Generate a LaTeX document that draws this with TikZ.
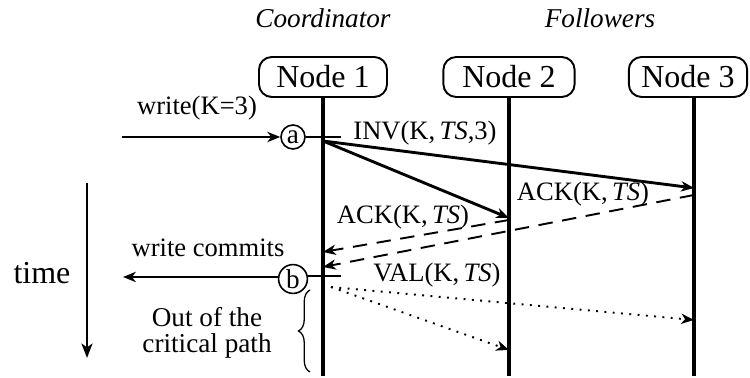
\documentclass[tikz,border=0pt]{standalone}
\usepackage{fontspec}
\setmainfont{Liberation Serif}
\usetikzlibrary{arrows.meta,decorations.pathreplacing}
\begin{document}
\begin{tikzpicture}[x=0.3125pt,y=-0.3125pt,
  box/.style={draw,line width=0.6pt,rounded corners=4pt,minimum height=12.5pt,inner sep=1pt,font=\fontsize{10}{12}\selectfont},
  lbl/.style={inner sep=0pt,font=\fontsize{8.3}{10}\selectfont},
  ttl/.style={inner sep=0pt,font=\fontsize{8.5}{10}\selectfont\itshape},
  life/.style={line width=1pt},
  msg/.style={line width=0.9pt,-{Stealth[length=4pt,width=3.2pt,inset=1.2pt]}},
  ack/.style={line width=0.6pt,dash pattern=on 4.5pt off 3pt,-{Stealth[length=4pt,width=3.2pt,inset=1.2pt]}},
  val/.style={line width=0.6pt,dash pattern=on 0.6pt off 2pt,-{Stealth[length=4pt,width=3.2pt,inset=1.2pt]}},
  circ/.style={draw,circle,line width=0.5pt,inner sep=0.6pt,minimum size=7.5pt,font=\fontsize{8.5}{10}\selectfont},
  tick/.style={line width=0.9pt}]
\useasboundingbox (0,0) rectangle (750,378);

% titles
\node[ttl] (tc) at (323,18) {Coordinator};
\node[ttl] (tf) at (600,18) {Followers};

% boxes
\node[box,minimum width=40pt] (n1) at (323,77) {Node 1};
\node[box,minimum width=41pt] (n2) at (509,77) {Node 2};
\node[box,minimum width=37pt] (n3) at (688,77) {Node 3};

% lifelines
\coordinate (l1b) at (323,376);
\coordinate (l2b) at (509,376);
\coordinate (l3t) at (694,97);
\coordinate (l3b) at (694,376);
\draw[life] (n1.south) -- (l1b);
\draw[life] (n2.south) -- (l2b);
\draw[life] (l3t) -- (l3b);

% write request
\coordinate (win) at (122,137);
\node[circ] (ca) at (293,137) {a};
\draw[line width=0.9pt,-{Stealth[length=4pt,width=3.2pt,inset=1.2pt]}] (win) -- (ca.west);
\node[lbl] (wl) at (197,108) {write(K=3)};
\coordinate (ta2) at (341,137);
\draw[tick] (ca.east) -- (ta2);

% INV
\coordinate (inv0) at (323,141);
\coordinate (inv3) at (694,188);
\coordinate (inv2) at (509,218);
\draw[msg] (inv0) -- (inv3);
\draw[msg] (inv0) -- (inv2);
\node[lbl] (invl) at (425,133) {INV(K,\,\textit{TS},3)};

% ACKs
\coordinate (a2s) at (509,220);
\coordinate (a2e) at (323,252);
\coordinate (a3s) at (694,195);
\coordinate (a3e) at (323,267);
\draw[ack] (a2s) -- (a2e);
\draw[ack] (a3s) -- (a3e);
\node[lbl] (ack2l) at (403,217) {ACK(K,\,\textit{TS})};
\node[lbl] (ack3l) at (583,194) {ACK(K,\,\textit{TS})};

% commit
\node[circ] (cb) at (293,279) {b};
\coordinate (tb2) at (341,276);
\draw[tick] (cb.east |- tb2) -- (tb2);
\coordinate (wout) at (123,277);
\draw[line width=0.9pt,-{Stealth[length=4pt,width=3.2pt,inset=1.2pt]}] (cb.west |- wout) -- (wout);
\node[lbl] (wcl) at (208,248) {write commits};

% VAL
\node[lbl] (vall) at (437,275) {VAL(K,\,\textit{TS})};
\coordinate (v0) at (331,287);
\coordinate (v3) at (694,320);
\coordinate (v2) at (509,350);
\draw[val] (v0) -- (v3);
\draw[val] (v0) -- (v2);

% brace
\coordinate (bb) at (310,372);
\coordinate (bt) at (310,290);
\draw[line width=0.4pt,decorate,decoration={brace,amplitude=3.6pt}] (bb) -- (bt);
\node[lbl,align=center,font=\fontsize{8.5}{8}\selectfont] (oot) at (207,333) {Out of the\\critical path};

% time
\coordinate (tt) at (87,183);
\coordinate (tbm) at (87,358);
\draw[line width=0.9pt,-{Stealth[length=4.5pt,width=3.4pt,inset=1.2pt]}] (tt) -- (tbm);
\node[inner sep=0pt,font=\fontsize{10}{12}\selectfont] (time) at (42,273) {time};
\end{tikzpicture}
\end{document}
